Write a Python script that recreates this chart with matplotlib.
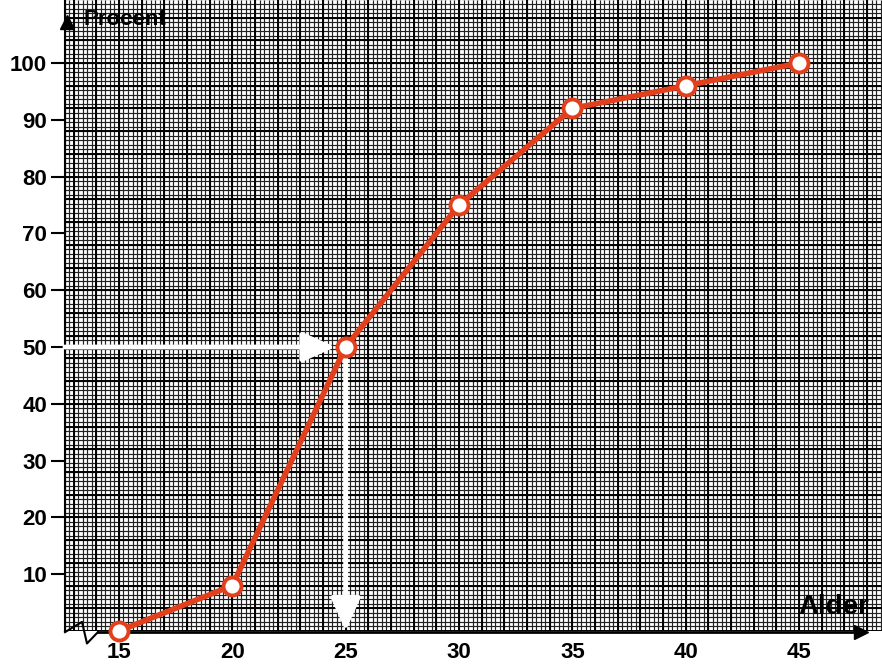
import numpy as np
import matplotlib.pyplot as plt

# Data
alder = [15, 20, 25, 30, 35, 40, 45]
procent = [0, 8, 50, 75, 92, 96, 100]
y_ticks = [10, 20, 30, 40, 50, 60, 70, 80, 90, 100]
x_ticks = [15, 20, 25, 30, 35, 40, 45]

plt.rcParams['font.family'] = ['Liberation Sans', 'DejaVu Sans']

fig = plt.figure(figsize=(8.82, 6.71), dpi=100)
ax = fig.add_axes([65 / 882, 40 / 671, 817 / 882, 631 / 671])
xmin, xmax = 12.62, 48.66
ymin, ymax = 0, 111.1
ax.set_xlim(xmin, xmax)
ax.set_ylim(ymin, ymax)

# graph paper background
fx = np.arange(15 - 0.2 * 20, xmax + 0.2, 0.2)
fy = np.arange(0, ymax + 0.8, 0.8)
ax.vlines(fx, ymin, ymax, color='#222222', lw=0.85, zorder=0)
ax.hlines(fy, xmin, xmax, color='#222222', lw=0.85, zorder=0)
ax.vlines(fx[::5], ymin, ymax, color='#000000', lw=1.4, zorder=0)
ax.hlines(fy[::5], xmin, xmax, color='#000000', lw=1.4, zorder=0)

for s in ['top', 'right', 'bottom']:
    ax.spines[s].set_visible(False)
ax.spines['left'].set_linewidth(1.5)

ax.set_yticks(y_ticks)
ax.set_yticklabels([str(v) for v in y_ticks], fontsize=16, fontweight='bold')
ax.set_xticks(x_ticks)
ax.set_xticklabels([str(v) for v in x_ticks], fontsize=16, fontweight='bold')
ax.tick_params(axis='y', length=10, width=1.5, pad=3)
ax.tick_params(axis='x', length=0, pad=8)

# white reading arrows at the median
arrow = dict(arrowstyle='-|>,head_length=1.0,head_width=0.45',
             color='white', lw=3.5, mutation_scale=20, shrinkA=0, shrinkB=0)
ax.annotate('', xy=(24.55, 50), xytext=(xmin, 50), arrowprops=arrow, zorder=3)
ax.annotate('', xy=(25, 0), xytext=(25, 48.5), arrowprops=arrow, zorder=3)

# the curve
ax.plot(alder, procent, color='#e2401c', lw=4, marker='o', ms=13,
        mfc='white', mec='#e2401c', mew=2.8, zorder=5, clip_on=False)

# x axis line with arrow and break mark
x_break = [xmin, xmin + 0.75, xmin + 0.97, xmin + 1.45]
y_break = [-0.2, 1.6, -2.2, -0.2]
ax.plot(x_break, y_break, color='black', lw=1.5, clip_on=False, zorder=4)
ax.plot([xmin + 1.45, 47.6], [-0.2, -0.2], color='black', lw=2, clip_on=False, zorder=4)
ax.plot([47.75], [-0.2], marker='>', color='black', ms=10, clip_on=False, zorder=4)
ax.plot([xmin + 0.1], [107.3], marker='^', color='black', ms=10, clip_on=False, zorder=4)

ax.text(xmin + 0.8, 107.6, 'Procent', fontsize=16, fontweight='bold',
        ha='left', va='center', zorder=4)
ax.text(48.1, 4.2, 'Alder', fontsize=20, fontweight='bold',
        ha='right', va='center', zorder=4)

fig.savefig('out.png', dpi=100)
